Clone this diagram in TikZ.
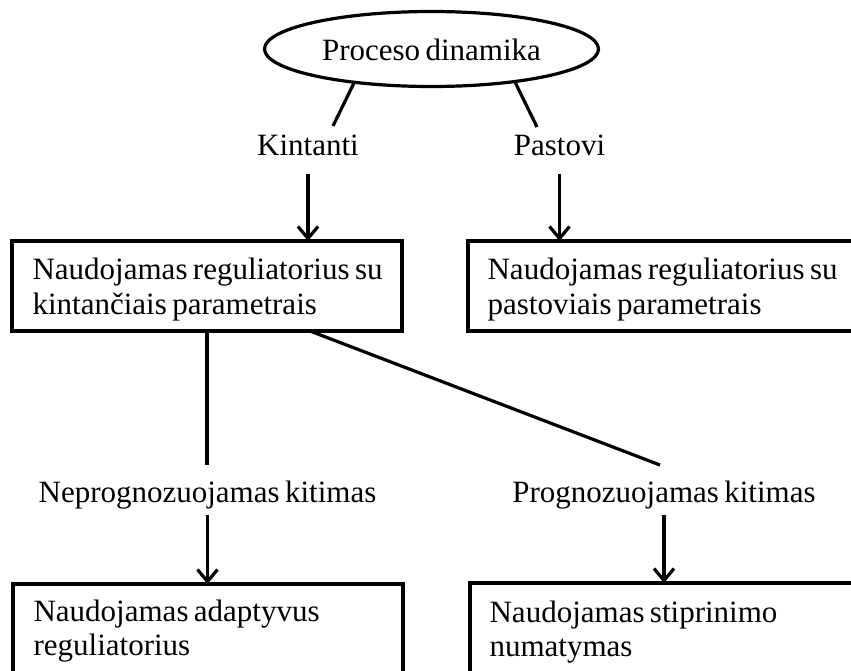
\documentclass[tikz,border=0pt]{standalone}
\usepackage{fontspec}
\setmainfont{Liberation Serif}[WordSpace=0.7]
\usetikzlibrary{arrows.meta,shapes.geometric,calc}
\begin{document}
\begin{tikzpicture}[x=1pt,y=-1pt,
  line width=3.2pt,
  every node/.style={font=\fontsize{31}{35}\selectfont},
  oval/.style={draw,ellipse,inner sep=0,minimum width=334pt,minimum height=75pt,
    text height=26pt,text depth=4pt},
  frame/.style={draw,rectangle,anchor=north west,inner sep=0,outer sep=0},
  caption/.style={anchor=base,inner xsep=0,inner ysep=4pt,text height=21pt,text depth=7pt},
  boxtext/.style={anchor=north west,inner sep=0,align=left},
  lowtext/.style={boxtext,font=\fontsize{31}{34}\selectfont},
  flow/.style={-{Straight Barb[length=12pt,width=20pt]}},
]
\useasboundingbox (0,0) rectangle (851,670);
\clip (0,0) rectangle (851,670);

% top oval
\node[oval] (e) at (431.5,49) {Proceso dinamika};

% branch labels
\node[caption] (kin) at (308,155) {Kintanti};
\node[caption] (pas) at (559.5,155) {Pastovi};
\coordinate (kin-top) at (333,126);
\coordinate (pas-top) at (537,127);

% controller boxes
\node[frame,minimum width=390pt,minimum height=90pt] (b1) at (12,241) {};
\node[frame,minimum width=412pt,minimum height=90pt] (b2) at (468,241) {};
\node[boxtext] (t1) at (31,256.3) {Naudojamas reguliatorius su\\kintančiais parametrais};
\node[boxtext] (t2) at (486,256.3) {Naudojamas reguliatorius su\\pastoviais parametrais};

% change labels
\node[caption] (np) at (207.5,502) {Neprognozuojamas kitimas};
\node[caption] (pg) at (664,502) {Prognozuojamas kitimas};
\coordinate (np-top) at (207,465);
\coordinate (pg-top) at (660,465);

% lower boxes
\node[frame,minimum width=390pt,minimum height=120pt] (b3) at (13,584) {};
\node[frame,minimum width=410pt,minimum height=120pt] (b4) at (470,583) {};
\node[lowtext] (t3) at (32,598.8) {Naudojamas adaptyvus\\reguliatorius};
\node[lowtext] (t4) at (488,599.8) {Naudojamas stiprinimo\\numatymas};

% connectors
\draw (e.204) -- (kin-top);
\draw (e.338) -- (pas-top);
\draw[flow,shorten <=6pt] (kin.south) -- (kin.south |- b1.north);
\draw[flow,shorten <=6pt] (pas.south) -- (pas.south |- b2.north);
\draw (b1.south) -- (np-top);
\draw ($(b1.south west)!0.764!(b1.south east)$) -- (pg-top);
\draw[flow] (np.south) -- (np.south |- b3.north);
\draw[flow] (pg.south) -- (pg.south |- b4.north);
\end{tikzpicture}
\end{document}
